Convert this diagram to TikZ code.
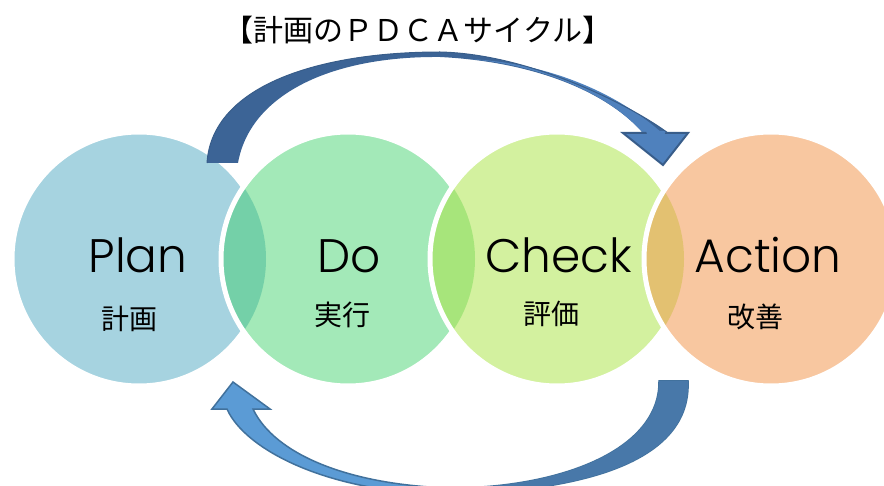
\documentclass[tikz,border=0pt]{standalone}
\usepackage{fontspec}
\newfontfamily\cjk{Noto Sans CJK JP}
\newfontfamily\latin{Poppins Light}
\definecolor{planc}{HTML}{A6D3E0}
\definecolor{doc}{HTML}{A3E9B8}
\definecolor{checkc}{HTML}{D3F19F}
\definecolor{actionc}{HTML}{F8C7A0}
\definecolor{lensa}{HTML}{74D0A8}
\definecolor{lensb}{HTML}{A7E57B}
\definecolor{lensc}{HTML}{E3C171}
\definecolor{arrowdark}{HTML}{3C6496}
\definecolor{arrowlight}{HTML}{4F81BD}
\definecolor{arrowline}{HTML}{385D8A}
\definecolor{arrowsky}{HTML}{5B9BD5}
\definecolor{arrowsteel}{HTML}{4878A9}
\definecolor{arrowrim}{HTML}{41719C}
\tikzset{
  ring/.style={circle, minimum size=254pt, inner sep=0pt},
  rim/.style={draw=white, line width=5pt},
  word/.style={anchor=base, font=\latin\fontsize{47}{47}\selectfont},
  kanji/.style={font=\cjk\fontsize{28}{28}\selectfont},
}
\begin{document}
\begin{tikzpicture}[x=1pt, y=-1pt]
\useasboundingbox (0,0) rectangle (884,486);
\node [ring, fill=planc, rim] (plan) at (139,259) {};
\node [ring, fill=doc] (do) at (348,259) {};
\node [ring, fill=checkc] (check) at (557,259) {};
\node [ring, fill=actionc] (action) at (771,259) {};
\begin{scope}
\clip (plan.center) circle (127pt);
\fill [lensa] (do.center) circle (127pt);
\end{scope}
\draw [rim] (do.center) circle (127pt);
\fill [checkc] (check.center) circle (127pt);
\begin{scope}
\clip (do.center) circle (127pt);
\fill [lensb] (check.center) circle (127pt);
\end{scope}
\draw [rim] (check.center) circle (127pt);
\fill [actionc] (action.center) circle (127pt);
\begin{scope}
\clip (check.center) circle (127pt);
\fill [lensc] (action.center) circle (127pt);
\end{scope}
\draw [rim] (action.center) circle (127pt);
\node [word] (planw) at (138,273) {Plan};
\node [word] (dow) at (349,273) {Do};
\node [word] (checkw) at (559,273) {Check};
\node [word] (actionw) at (768,273) {Action};
\node [kanji] (planj) at (129,319) {計画};
\node [kanji] (doj) at (342,315) {実行};
\node [kanji] (checkj) at (551,314) {評価};
\node [kanji] (actionj) at (755,317) {改善};
\node [font=\cjk\fontsize{30}{30}\selectfont] (title) at (418,30) {【計画のＰＤＣＡサイクル】};
\coordinate (toptail) at (207,163);
\coordinate (toptip) at (663,165);
\coordinate (bottail) at (688,381);
\coordinate (bottip) at (233,382);
\fill [arrowdark] (toptail) .. controls (212,85) and (320,52) .. (440,52)
  .. controls (530,54) and (630,105) .. (668,133) -- (688,133) -- (toptip)
  -- (623,133) -- (643,133) .. controls (610,95) and (540,62) .. (440,57)
  .. controls (330,56) and (250,95) .. (238,163) -- cycle;
\fill [arrowlight] (470,59) .. controls (560,64) and (625,100) .. (662,133)
  -- (643,133) .. controls (610,95) and (545,66) .. (470,59) -- cycle;
\fill [arrowlight, draw=arrowline, line width=2pt, line join=miter]
  (623,133) -- (688,133) -- (toptip) -- cycle;
\fill [arrowlight] (646,131) -- (666,131) -- (663,137) -- (648,137) -- cycle;
\draw [arrowline, line width=1pt] (toptail) .. controls (212,85) and (320,52) .. (440,52)
  .. controls (530,54) and (630,105) .. (668,133);
\begin{scope}
\clip (0,0) rectangle (884,486);
\fill [arrowsky, draw=arrowrim, line width=1.5pt, line join=miter]
  (bottail) .. controls (692,470) and (560,492) .. (450,494)
  .. controls (330,494) and (245,450) .. (227,409) -- (212,409) -- (bottip)
  -- (270,409) -- (253,409) .. controls (275,455) and (350,485) .. (450,488)
  .. controls (560,488) and (660,450) .. (659,381) -- cycle;
\clip (450,0) rectangle (884,486);
\fill [arrowsteel] (bottail) .. controls (692,470) and (560,492) .. (450,494)
  -- (450,488) .. controls (560,488) and (660,450) .. (659,381) -- cycle;
\end{scope}
\end{tikzpicture}
\end{document}
